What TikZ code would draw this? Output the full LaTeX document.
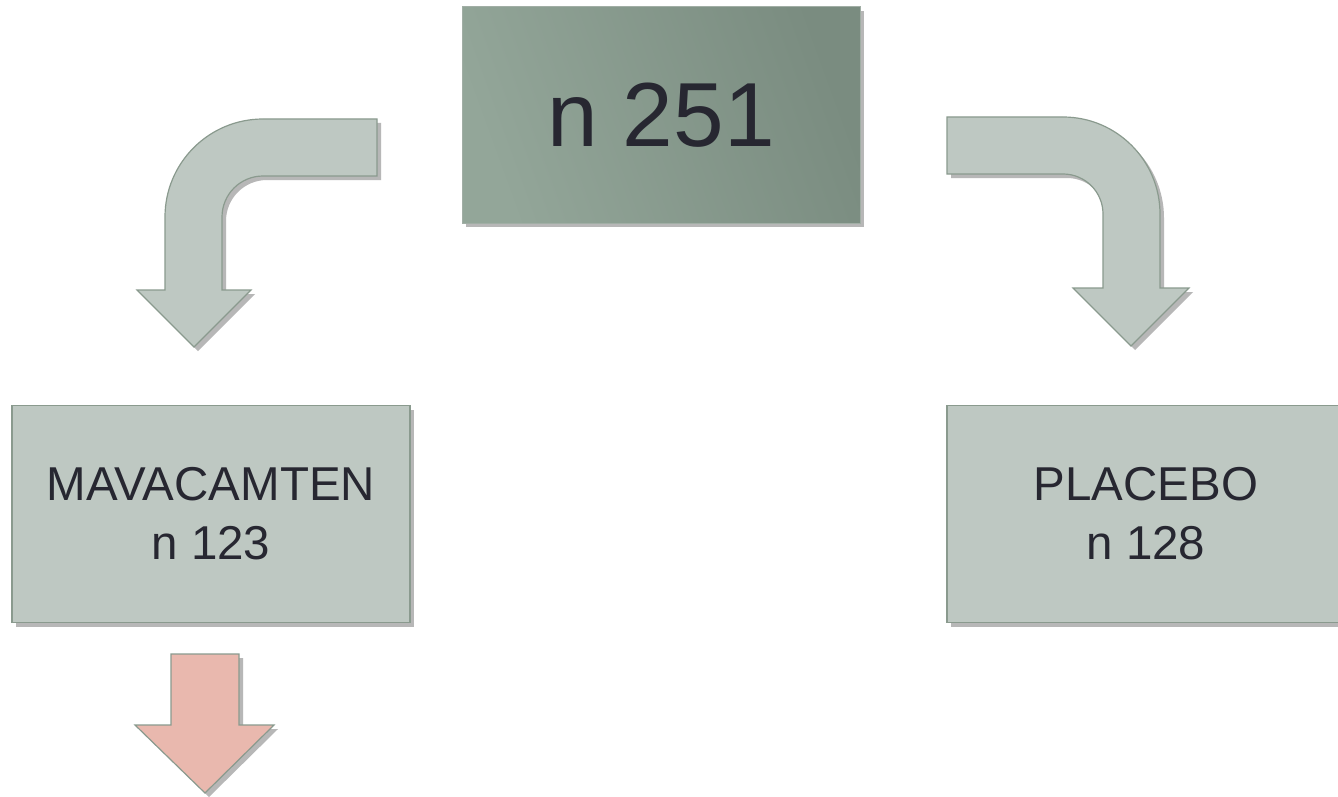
\documentclass[tikz,border=0pt]{standalone}
\usepackage{fontspec}
\setmainfont{Liberation Sans}
\usetikzlibrary{shadows}
\definecolor{boxfill}{HTML}{BEC8C2}
\definecolor{boxline}{HTML}{8A9A8E}
\definecolor{topA}{HTML}{93A699}
\definecolor{topB}{HTML}{7A8C80}
\definecolor{pinkfill}{HTML}{E9B8AE}
\definecolor{txt}{HTML}{272731}
\tikzset{
  myshadow/.style={drop shadow={shadow xshift=4pt, shadow yshift=-4pt, opacity=0.4, fill=black!70}},
  lightbox/.style={draw=boxline, line width=1.2pt, fill=boxfill, myshadow, minimum width=398pt, minimum height=217pt, inner sep=0pt, align=center, text=txt, font=\fontsize{47.5}{59}\selectfont},
  topbox/.style={draw=boxline!80, line width=1pt, left color=topA, right color=topB, shading angle=110, myshadow, minimum width=398pt, minimum height=216pt, inner sep=0pt, text=txt, font=\fontsize{91}{105}\selectfont},
  blockarrow/.style={draw=boxline, line width=1.2pt, fill=boxfill, myshadow, line join=miter},
  pinkarrow/.style={draw=boxline, line width=1.2pt, fill=pinkfill, myshadow, line join=miter}
}
\begin{document}
\begin{tikzpicture}[x=1pt, y=-1pt]
\clip (0,0) rectangle (1338,797);
\fill[white] (0,0) rectangle (1338,797);
% boxes
\node[topbox] (total) at (661,115) {n 251};
\node[lightbox] (mava) at (211,514) {MAVACAMTEN\\n 123};
\node[lightbox] (plac) at (1146,514) {PLACEBO\\n 128};
% left bent arrow
\path[blockarrow] (377,119) -- (263,119) arc[start angle=-90, end angle=-180, radius=98]
  -- (165,290) -- (137,290) -- (194,347) -- (251,290) -- (222,290) -- (222,217)
  arc[start angle=180, end angle=270, radius=41] -- (377,176) -- cycle;
% right bent arrow
\path[blockarrow] (947,117) -- (1063,117) arc[start angle=-90, end angle=0, radius=97]
  -- (1160,288) -- (1189,288) -- (1131,346) -- (1073,288) -- (1103,288) -- (1103,214)
  arc[start angle=0, end angle=-90, radius=40] -- (947,174) -- cycle;
% pink arrow below MAVACAMTEN
\path[pinkarrow] (171,654) -- (239,654) -- (239,725) -- (274,725) -- (205,793) -- (135,725) -- (171,725) -- cycle;
\end{tikzpicture}
\end{document}
